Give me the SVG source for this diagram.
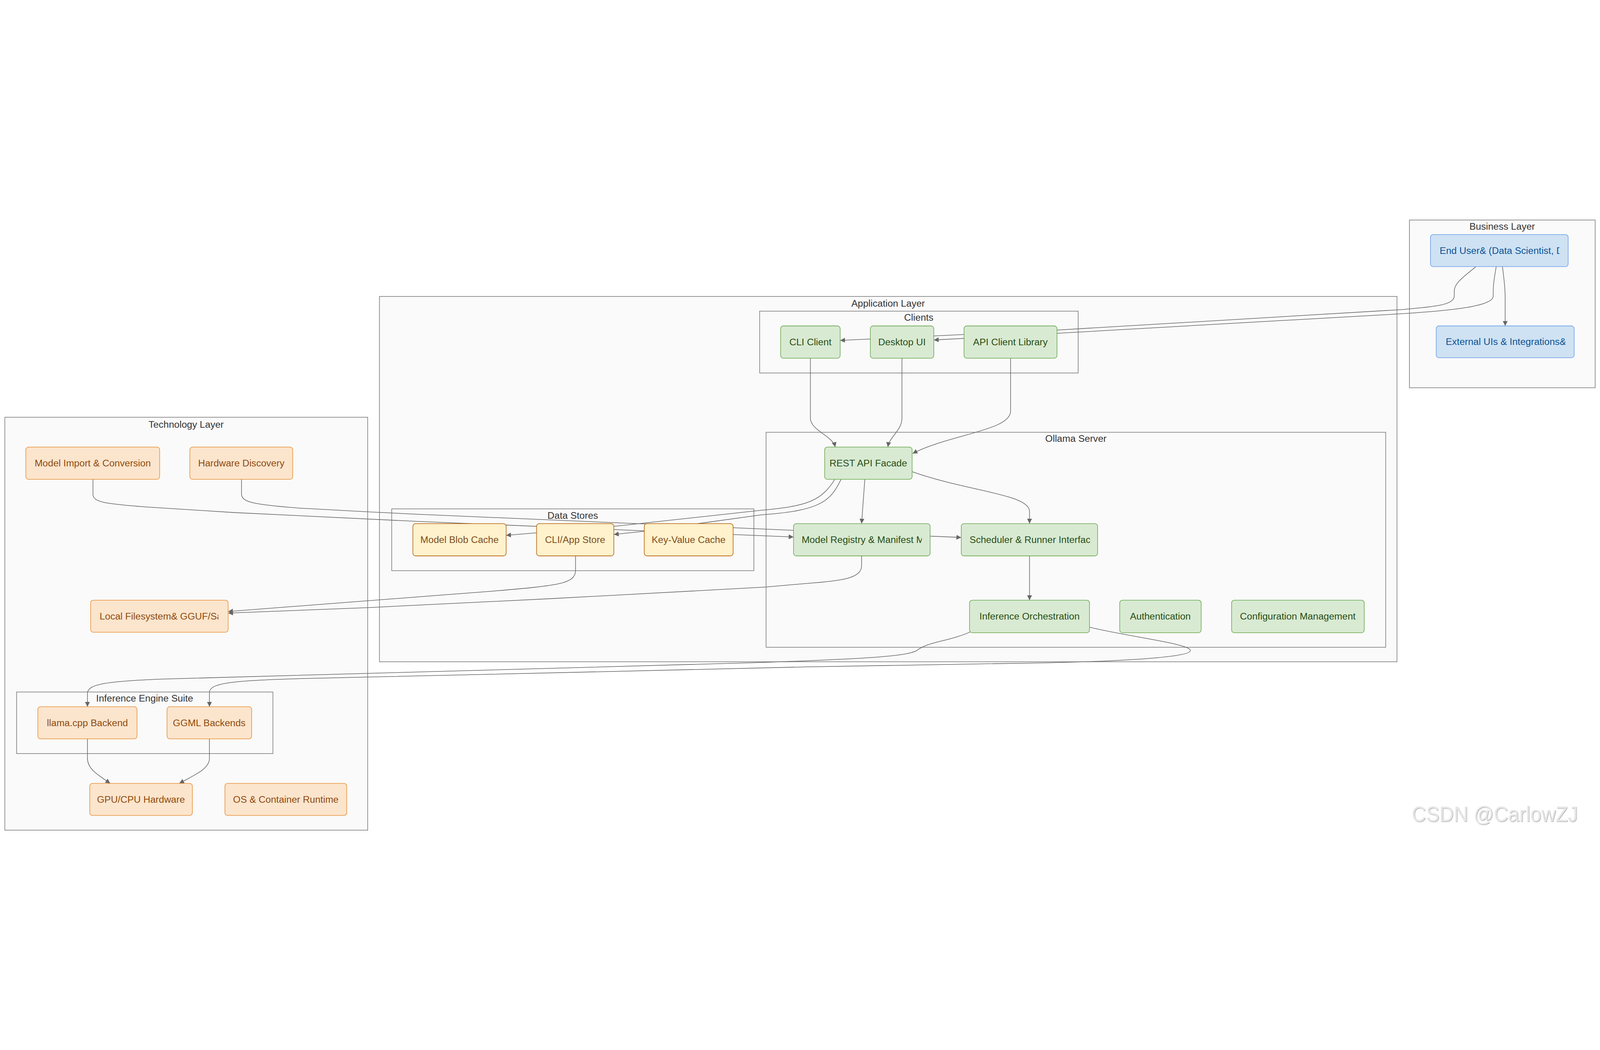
<svg xmlns="http://www.w3.org/2000/svg" width="6936" height="2688" viewBox="0 0 6936 2688" preserveAspectRatio="xMidYMid meet">
<style>
  svg:root { width: 100vw; height: 100vh; overflow: hidden; }
  text { font-family: "Liberation Sans", Arial, sans-serif; font-size: 41.6px; }
  .cluster rect { fill: #fafafa; stroke: #777777; stroke-width: 2.6; }
  .ctitle { fill: #333333; text-anchor: middle; }
  .edge { fill: none; stroke: #666666; stroke-width: 2.6; }
  .arr { marker-end: url(#arrow); }
  .blue rect { fill: #cfe2f3; stroke: #6d9eeb; stroke-width: 2.6; }
  .blue text { fill: #0b5394; }
  .green rect { fill: #d9ead3; stroke: #6aa84f; stroke-width: 2.6; }
  .green text { fill: #274e13; }
  .yellow rect { fill: #fff2cc; stroke: #b45f06; stroke-width: 2.6; }
  .yellow text { fill: #7f4d1e; }
  .orange rect { fill: #fce5cd; stroke: #e69138; stroke-width: 2.6; }
  .orange text { fill: #8f4a0c; }
  .c { text-anchor: middle; }
  .wm { font-family: "Liberation Sans", Arial, sans-serif; font-size: 94px; fill: #e6e6e6; }
</style>
<defs>
  <marker id="arrow" viewBox="0 0 10 10" refX="10" refY="5" markerUnits="userSpaceOnUse" markerWidth="21" markerHeight="21" orient="auto">
    <path d="M0,0 L10,5 L0,10 z" fill="#666666"/>
  </marker>
  <clipPath id="clipEU"><rect x="6230" y="90" width="530" height="130"/></clipPath>
  <clipPath id="clipEX"><rect x="6250" y="486" width="536" height="130"/></clipPath>
  <clipPath id="clipLF"><rect x="410" y="1675" width="537" height="130"/></clipPath>
  <clipPath id="clipMR"><rect x="3460" y="1343" width="536" height="130"/></clipPath>
  <clipPath id="clipSR"><rect x="4190" y="1343" width="535" height="130"/></clipPath>
  <filter id="wmShadow" x="-2%" y="-10%" width="104%" height="120%">
    <feDropShadow dx="2" dy="2" stdDeviation="1" flood-color="#a8a8a8"/>
  </filter>
</defs>
<rect x="0" y="0" width="6936" height="2688" fill="#ffffff"/>

<g id="clusters">
  <g class="cluster" id="cluster-business"><rect x="6110" y="22" width="805" height="727"/><text class="ctitle" x="6512" y="63">Business Layer</text></g>
  <g class="cluster" id="cluster-application"><rect x="1645" y="353" width="4411" height="1584"/><text class="ctitle" x="3850" y="397">Application Layer</text></g>
  <g class="cluster" id="cluster-clients"><rect x="3293" y="417" width="1381" height="268"/><text class="ctitle" x="3983" y="458">Clients</text></g>
  <g class="cluster" id="cluster-ollama"><rect x="3321" y="942" width="2686" height="932"/><text class="ctitle" x="4664" y="983">Ollama Server</text></g>
  <g class="cluster" id="cluster-datastores"><rect x="1698" y="1274" width="1570" height="268"/><text class="ctitle" x="2483" y="1317">Data Stores</text></g>
  <g class="cluster" id="cluster-technology"><rect x="21" y="877" width="1573" height="1790"/><text class="ctitle" x="807" y="922">Technology Layer</text></g>
  <g class="cluster" id="cluster-inference"><rect x="72" y="2068" width="1111" height="267"/><text class="ctitle" x="627" y="2110">Inference Engine Suite</text></g>
</g>

<g id="connectors">
  <path class="edge arr" d="M6398,224 C6340,272 6304,296 6304,332 L6304,352 C6304,390 6220,398 6080,410 L4582,499 L3642,544"/>
  <path class="edge arr" d="M6486,224 C6478,272 6473,300 6473,332 L6473,352 C6473,395 6300,414 6080,428 L4582,513 L4048,542"/>
  <path class="edge arr" d="M6513,224 C6522,290 6525,320 6525,362 L6525,481"/>
  <path class="edge arr" d="M3513,621 L3513,880 C3513,935 3608,955 3621,1006"/>
  <path class="edge arr" d="M3910,621 L3910,880 C3910,935 3856,960 3849,1006"/>
  <path class="edge arr" d="M4381,621 L4381,850 C4381,935 4120,950 3956,1034"/>
  <path class="edge arr" d="M3749,1146 L3735,1338"/>
  <path class="edge arr" d="M3954,1113 C4200,1200 4463,1210 4463,1285 L4463,1338"/>
  <path class="edge arr" d="M4463,1478 L4463,1670"/>
  <path class="edge arr" d="M3619,1146 C3560,1240 3500,1262 3300,1280 L2661,1350 L2326,1378 L2194,1389"/>
  <path class="edge arr" d="M3646,1146 C3600,1240 3560,1282 3300,1300 L3033,1337 L2793,1371 L2661,1385"/>
  <path class="edge arr" d="M403,1146 L403,1210 C403,1245 450,1252 652,1267 L1014,1290 L1800,1328 L3440,1396"/>
  <path class="edge arr" d="M1047,1146 L1047,1210 C1047,1245 1100,1255 1286,1270 L1594,1287 L1800,1297 L4167,1398"/>
  <path class="edge arr" d="M2495,1478 L2495,1540 C2495,1600 2420,1606 2144,1630 L989,1719"/>
  <path class="edge arr" d="M3735,1478 L3735,1520 C3735,1575 3650,1586 3500,1597 L3321,1613 L2393,1663 L1597,1702 L989,1726"/>
  <path class="edge arr" d="M4210,1806 C4110,1850 4020,1850 3975,1888 C3930,1912 3800,1922 3300,1940 C2600,1962 1400,1990 700,2012 C450,2022 379,2035 379,2075 L379,2132"/>
  <path class="edge arr" d="M4723,1787 C4900,1830 5170,1860 5160,1890 C5150,1915 4900,1935 4500,1942 L3493,1959 C2800,1975 1800,2000 1300,2010 C1000,2018 908,2030 908,2070 L908,2132"/>
  <path class="edge arr" d="M379,2271 L379,2355 C379,2400 420,2425 478,2464"/>
  <path class="edge arr" d="M908,2271 L908,2355 C908,2400 850,2425 777,2464"/>
</g>

<g id="nodes">
  <g id="node-enduser" class="blue"><rect x="6201" y="85" width="597" height="139" rx="12"/><text x="6241" y="169" clip-path="url(#clipEU)">End User&amp; (Data Scientist, D</text></g>
  <g id="node-externalui" class="blue"><rect x="6226" y="481" width="598" height="138" rx="12"/><text x="6267" y="564" clip-path="url(#clipEX)">External UIs &amp; Integrations&amp;</text></g>

  <g id="node-cli" class="green"><rect x="3384" y="481" width="258" height="140" rx="12"/><text class="c" x="3513" y="565">CLI Client</text></g>
  <g id="node-desktop" class="green"><rect x="3773" y="481" width="275" height="140" rx="12"/><text class="c" x="3910" y="565">Desktop UI</text></g>
  <g id="node-apiclient" class="green"><rect x="4179" y="481" width="403" height="140" rx="12"/><text class="c" x="4380" y="565">API Client Library</text></g>
  <g id="node-rest" class="green"><rect x="3575" y="1006" width="379" height="140" rx="12"/><text class="c" x="3764" y="1090">REST API Facade</text></g>
  <g id="node-registry" class="green"><rect x="3440" y="1338" width="592" height="140" rx="12"/><text x="3475" y="1422" clip-path="url(#clipMR)">Model Registry &amp; Manifest M</text></g>
  <g id="node-scheduler" class="green"><rect x="4167" y="1338" width="591" height="140" rx="12"/><text x="4203" y="1422" clip-path="url(#clipSR)">Scheduler &amp; Runner Interfac</text></g>
  <g id="node-inference" class="green"><rect x="4203" y="1670" width="520" height="141" rx="12"/><text class="c" x="4463" y="1754">Inference Orchestration</text></g>
  <g id="node-auth" class="green"><rect x="4854" y="1670" width="353" height="141" rx="12"/><text class="c" x="5030" y="1754">Authentication</text></g>
  <g id="node-config" class="green"><rect x="5339" y="1670" width="575" height="141" rx="12"/><text class="c" x="5626" y="1754">Configuration Management</text></g>

  <g id="node-blob" class="yellow"><rect x="1790" y="1338" width="404" height="140" rx="12"/><text class="c" x="1992" y="1422">Model Blob Cache</text></g>
  <g id="node-appstore" class="yellow"><rect x="2326" y="1338" width="335" height="140" rx="12"/><text class="c" x="2493" y="1422">CLI/App Store</text></g>
  <g id="node-kv" class="yellow"><rect x="2793" y="1338" width="385" height="140" rx="12"/><text class="c" x="2985" y="1422">Key-Value Cache</text></g>

  <g id="node-import" class="orange"><rect x="112" y="1006" width="580" height="140" rx="12"/><text class="c" x="402" y="1090">Model Import &amp; Conversion</text></g>
  <g id="node-hardware" class="orange"><rect x="823" y="1006" width="446" height="140" rx="12"/><text class="c" x="1046" y="1090">Hardware Discovery</text></g>
  <g id="node-localfs" class="orange"><rect x="393" y="1670" width="596" height="139" rx="12"/><text x="432" y="1754" clip-path="url(#clipLF)">Local Filesystem&amp; GGUF/Sa</text></g>
  <g id="node-llama" class="orange"><rect x="164" y="2132" width="430" height="139" rx="12"/><text class="c" x="379" y="2216">llama.cpp Backend</text></g>
  <g id="node-ggml" class="orange"><rect x="724" y="2132" width="367" height="139" rx="12"/><text class="c" x="907" y="2216">GGML Backends</text></g>
  <g id="node-gpu" class="orange"><rect x="389" y="2464" width="445" height="139" rx="12"/><text class="c" x="611" y="2548">GPU/CPU Hardware</text></g>
  <g id="node-os" class="orange"><rect x="975" y="2464" width="528" height="139" rx="12"/><text class="c" x="1239" y="2548">OS &amp; Container Runtime</text></g>
</g>

<text class="wm" x="6120" y="2630" textLength="720" lengthAdjust="spacingAndGlyphs" filter="url(#wmShadow)">CSDN @CarlowZJ</text>
</svg>
